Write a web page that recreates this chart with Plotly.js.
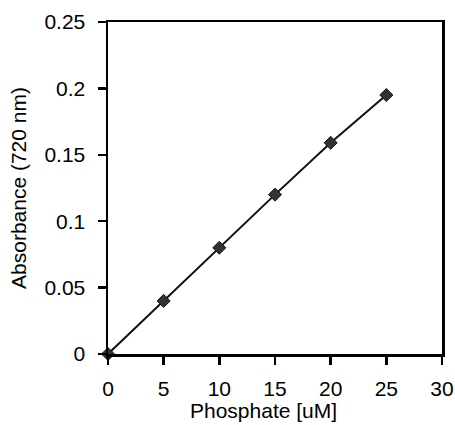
<!DOCTYPE html>
<html><head><meta charset="utf-8">
<script src="https://cdn.plot.ly/plotly-3.0.1.min.js"></script>
<style>html,body{margin:0;padding:0;background:#fff}#c{width:455px;height:425px}</style>
</head><body><div id="c"></div>
<script>
const phosphate = [0, 5, 10, 15, 20, 25];
const absorbance = [0, 0.04, 0.08, 0.12, 0.159, 0.195];
const xTicks = [0, 5, 10, 15, 20, 25, 30];
const yTicks = [0, 0.05, 0.1, 0.15, 0.2, 0.25];
const yTickText = ['0', '0.05', '0.1', '0.15', '0.2', '0.25'];
const xTitle = 'Phosphate [uM]';
const yTitle = 'Absorbance (720 nm)';

const font = {family: 'Liberation Sans, Arial, sans-serif', size: 21, color: '#000'};
Plotly.newPlot('c', [{
  x: phosphate, y: absorbance, type: 'scatter', mode: 'lines+markers',
  line: {color: '#111', width: 2},
  marker: {symbol: 'diamond', size: 10, color: '#333', line: {color: '#111', width: 1}},
  cliponaxis: false
}], {
  width: 455, height: 425,
  margin: {l: 108, r: 13, t: 22, b: 71},
  paper_bgcolor: '#fff', plot_bgcolor: '#fff',
  showlegend: false,
  font: font,
  xaxis: {range: [0, 30], tickvals: xTicks, ticks: 'outside', ticklen: 8, tickwidth: 2.5, tickcolor: '#000',
    showline: true, linewidth: 2.5, linecolor: '#000', mirror: true, showgrid: false, zeroline: false,
    ticklabelstandoff: 6},
  yaxis: {range: [0, 0.25], tickvals: yTicks, ticktext: yTickText, ticks: 'outside', ticklen: 8, tickwidth: 2.5, tickcolor: '#000',
    showline: true, linewidth: 2.5, linecolor: '#000', mirror: true, showgrid: false, zeroline: false,
    ticklabelstandoff: 8,
    title: {text: yTitle, font: font, standoff: 12}},
  annotations: [{text: xTitle, xref: 'paper', yref: 'paper', x: 0.465, y: 0, yshift: -70,
    xanchor: 'center', yanchor: 'bottom', showarrow: false, font: font}]
}, {displayModeBar: false, staticPlot: true});
</script></body></html>
